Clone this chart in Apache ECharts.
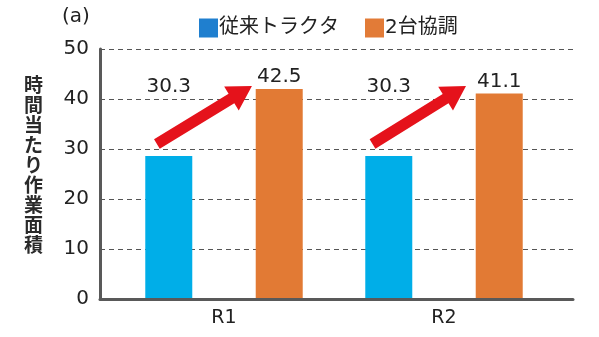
<!DOCTYPE html>
<html><head><meta charset="utf-8">
<script src="https://cdn.jsdelivr.net/npm/echarts@6/dist/echarts.min.js"></script>
<style>html,body{margin:0;padding:0;background:#fff}#c{width:599px;height:337px}</style>
</head><body><div id="c"></div>
<script>
const categories = ['R1', 'R2'];
const seriesNames = ['従来トラクタ', '2台協調'];
const conventional = [28.6, 28.6];
const cooperative = [42.0, 41.1];
const conventionalLabels = ['30.3', '30.3'];
const cooperativeLabels = ['42.5', '41.1'];
const arrowFrom = [31.0, 31.0];
const arrowTo = [42.6, 42.6];
const yTicks = [0, 10, 20, 30, 40, 50];
const yAxisTitle = '時間当たり作業面積';
const panelTag = '(a)';

const FONT = '"DejaVu Sans", "Noto Sans CJK JP", sans-serif';
const CJK = '"Noto Sans CJK JP", sans-serif';
const chart = echarts.init(document.getElementById('c'), null, {renderer: 'canvas'});

const arrowData = categories.map((c, i) => [i, arrowFrom[i], arrowTo[i]]);
const tailOff = [-0.305, -0.325];
const tipOff = [0.127, 0.10];

function renderArrow(params, api) {
  const i = api.value(0);
  const bw = api.size([1, 0])[0];
  const a = api.coord([i, api.value(1)]);
  const b = api.coord([i, api.value(2)]);
  const x0 = a[0] + tailOff[i] * bw, y0 = a[1];
  const x1 = b[0] + tipOff[i] * bw, y1 = b[1];
  const dx = x1 - x0, dy = y1 - y0, L = Math.sqrt(dx * dx + dy * dy);
  const ux = dx / L, uy = dy / L, nx = -uy, ny = ux;
  const w = 11, hw = 28, hl = 24;
  const sx = x1 - ux * hl, sy = y1 - uy * hl;
  const pts = [
    [x0 + nx * w / 2, y0 + ny * w / 2],
    [sx + nx * w / 2, sy + ny * w / 2],
    [sx + nx * hw / 2, sy + ny * hw / 2],
    [x1, y1],
    [sx - nx * hw / 2, sy - ny * hw / 2],
    [sx - nx * w / 2, sy - ny * w / 2],
    [x0 - nx * w / 2, y0 - ny * w / 2]
  ];
  return {type: 'polygon', shape: {points: pts}, style: {fill: '#e5121b'}};
}

const option = {
  backgroundColor: '#fff',
  textStyle: {fontFamily: FONT},
  legend: {
    top: 13, left: 194,
    itemWidth: 19, itemHeight: 19, itemGap: 26,
    icon: 'rect',
    textStyle: {fontSize: 20, color: '#222', fontFamily: FONT, padding: [0, 0, 0, -4]},
    data: [
      {name: seriesNames[0], itemStyle: {color: '#1f7fcf'}},
      {name: seriesNames[1], itemStyle: {color: '#e27b37'}}
    ]
  },
  graphic: [
    {type: 'text', left: 62, top: 7, style: {text: panelTag, fontSize: 20, fill: '#222', fontFamily: FONT}},
    {type: 'text', left: 24, top: 75, style: {text: yAxisTitle.split('').join('\n'), fontSize: 19, lineHeight: 20, fill: '#2a2a2a', fontFamily: CJK, fontWeight: 'bold', align: 'center'}}
  ],
  grid: [
    {left: 100, right: 26, top: 49, bottom: 38},
    {left: 114, right: 45, top: 49, bottom: 38}
  ],
  xAxis: [
    {gridIndex: 0, type: 'category', data: categories, axisLine: {show: true, lineStyle: {color: '#595959', width: 3}}, axisTick: {show: false}, axisLabel: {show: false}, z: 5},
    {gridIndex: 1, type: 'category', data: categories, axisLine: {show: false}, axisTick: {show: false},
     axisLabel: {fontSize: 19, color: '#222', margin: 10, fontFamily: FONT}}
  ],
  yAxis: [
    {gridIndex: 0, type: 'value', min: 0, max: 50, interval: 10,
     axisLine: {show: true, lineStyle: {color: '#595959', width: 3}}, axisTick: {show: false},
     axisLabel: {fontSize: 20, color: '#222', margin: 11, fontFamily: FONT, formatter: v => yTicks.includes(v) ? String(v) : ''},
     splitLine: {show: true, lineStyle: {color: '#555', width: 1, type: [5, 4]}}},
    {gridIndex: 1, type: 'value', min: 0, max: 50, interval: 10, show: false, splitLine: {show: false}}
  ],
  series: [
    {name: seriesNames[0], type: 'bar', xAxisIndex: 1, yAxisIndex: 1, data: conventional, barWidth: 47, barGap: '135%',
     itemStyle: {color: '#00aee8'}, z: 3,
     label: {show: true, position: 'top', distance: 59, fontSize: 20, color: '#222', fontFamily: FONT,
       formatter: p => conventionalLabels[p.dataIndex]}},
    {name: seriesNames[1], type: 'bar', xAxisIndex: 1, yAxisIndex: 1, data: cooperative, barWidth: 47,
     itemStyle: {color: '#e27a34'}, z: 3,
     label: {show: true, position: 'top', distance: 2, fontSize: 20, color: '#222', fontFamily: FONT,
       formatter: p => cooperativeLabels[p.dataIndex]}},
    {name: 'arrows', type: 'custom', xAxisIndex: 1, yAxisIndex: 1, data: arrowData, renderItem: renderArrow, z: 6, silent: true}
  ]
};
chart.setOption(option);
</script></body></html>
